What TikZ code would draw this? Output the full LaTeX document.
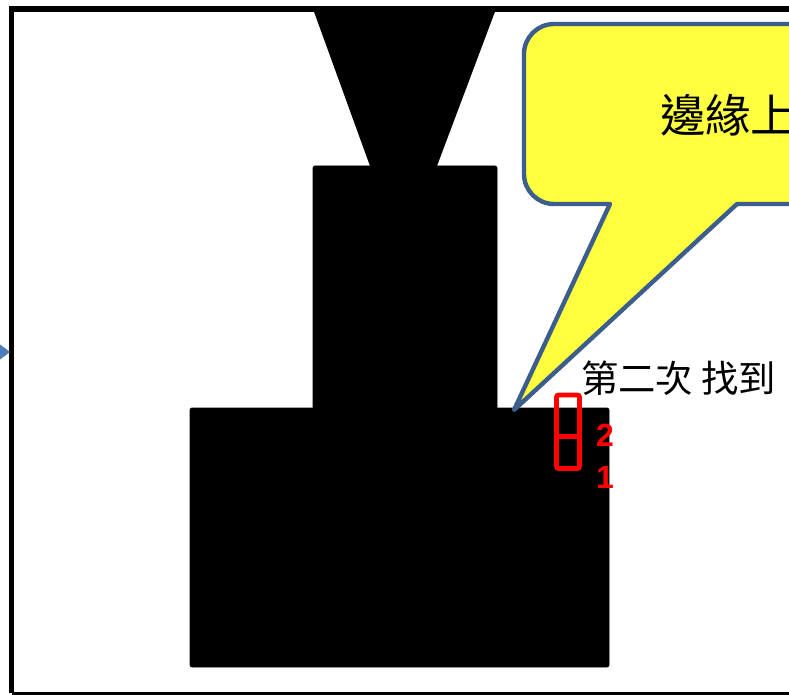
\documentclass[tikz,border=0pt]{standalone}
\usepackage{fontspec}
\newfontfamily\cjk{Noto Sans CJK TC}
\newfontfamily\digitfont{Liberation Sans}
\definecolor{callfill}{HTML}{FFFF40}
\definecolor{callline}{HTML}{3B5E8C}
\definecolor{arrowblue}{HTML}{4A7EBB}
\definecolor{markred}{HTML}{FF0000}
\begin{document}
\begin{tikzpicture}[x=0.75pt,y=-0.75pt,
  solid/.style={fill=black,draw=black,line width=0.5pt,rounded corners=1.5pt},
  frameline/.style={draw=black,line width=4pt},
  callout/.style={fill=callfill,draw=callline,line width=3.3pt,line join=round},
  markbox/.style={draw=markred,line width=3.5pt,rounded corners=1.5pt},
  digit/.style={text=markred,font=\digitfont\bfseries\fontsize{24}{24}\selectfont,inner sep=0pt},
  cjktext/.style={font=\cjk,inner sep=0pt,anchor=west}]
\useasboundingbox (0,0) rectangle (789,695);
\clip (0,0) rectangle (789,695);
% frame
\draw[frameline] (11.5,693) -- (11.5,9) -- (800,9);
\draw[draw=black,line width=2.5pt] (11.5,693.5) -- (800,693.5);
% left arrow head
\fill[arrowblue] (-2,343) -- (10,352) -- (-2,361) -- cycle;
% funnel
\fill[black] (313,9) -- (496,9) -- (437,166) -- (370,166) -- cycle;
% middle block
\path[solid] (313,166) rectangle (497,410) coordinate (mid);
% base block
\path[solid] (190,408) rectangle (609,667);
% callout
\coordinate (tip) at (514,410);
\draw[callout] (610,204)
  -- (554,204) arc[start angle=90,end angle=180,radius=30]
  -- (524,54) arc[start angle=180,end angle=270,radius=30]
  -- (820,24) -- (820,204) -- (737,204) -- (tip) -- cycle;
\node[cjktext,font=\cjk\fontsize{34}{34}\selectfont] (edge) at (660,115) {邊緣上};
% second find text
\node[cjktext,font=\cjk\fontsize{28}{28}\selectfont] (found) at (581,378) {第二次 找到};
% red marks
\draw[markbox] (556.5,395) rectangle (579.5,468.5);
\draw[draw=markred,line width=3.5pt] (556.5,436.5) -- (579.5,436.5);
\node[digit] (two) at (605,435.5) {2};
\node[digit] (one) at (605,477.5) {1};
\end{tikzpicture}
\end{document}
